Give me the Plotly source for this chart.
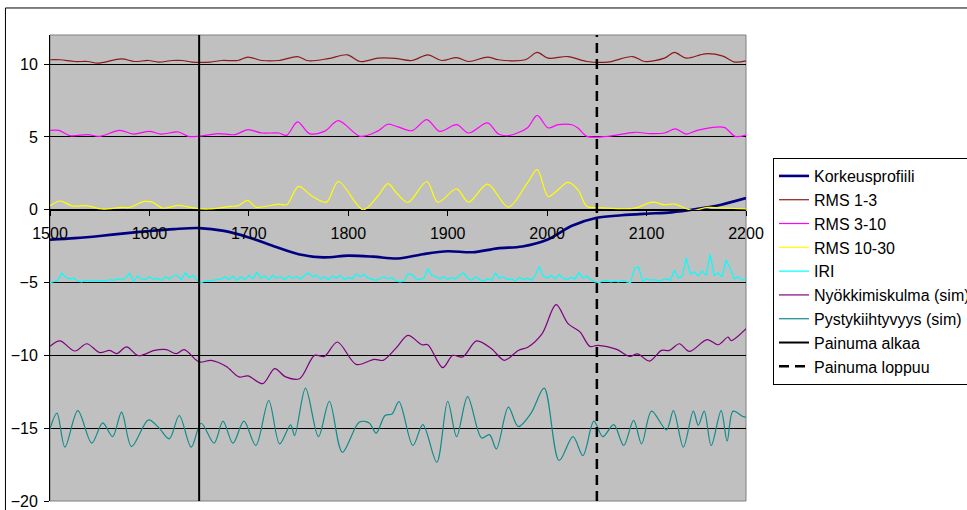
import plotly.graph_objects as go

# --- Korkeusprofiili (height profile) ---
KP_X = list(range(1500, 2201, 25))
KP_Y = [-2.06, -1.95, -1.80, -1.62, -1.46, -1.33, -1.26, -1.45, -1.90, -2.50,
        -3.05, -3.27, -3.15, -3.22, -3.35, -3.05, -2.85, -2.92, -2.65, -2.52,
        -2.06, -1.10, -0.55, -0.38, -0.27, -0.18, 0.05, 0.35, 0.80]

# --- RMS 1-3 (shown with +10 offset) ---
RMS13_X = [1500, 1510, 1525, 1538, 1548, 1572, 1585, 1599, 1609, 1623,
           1633, 1643, 1661, 1673, 1689, 1699, 1713, 1730, 1749, 1760,
           1780, 1799, 1812, 1830, 1847, 1864, 1880, 1894, 1909, 1921,
           1940, 1951, 1978, 1990, 2001, 2021, 2040, 2061, 2086, 2098,
           2118, 2128, 2140, 2159, 2176, 2189, 2200]
RMS13_Y = [10.30, 10.30, 10.18, 10.18, 10.07, 10.36, 10.18, 10.25, 10.14, 10.25,
           10.25, 10.14, 10.14, 10.25, 10.25, 10.48, 10.25, 10.25, 10.52, 10.23,
           10.38, 10.64, 10.18, 10.41, 10.40, 10.25, 10.64, 10.25, 10.45, 10.18,
           10.48, 10.30, 10.30, 10.80, 10.41, 10.52, 10.18, 10.14, 10.52, 10.18,
           10.41, 10.80, 10.41, 10.71, 10.57, 10.14, 10.23]

# --- RMS 3-10 (shown with +5 offset) ---
RMS310_X = [1500, 1509, 1520, 1538, 1550, 1570, 1584, 1600, 1612, 1629,
            1639, 1649, 1669, 1686, 1699, 1713, 1730, 1738, 1749, 1761,
            1776, 1790, 1812, 1829, 1840, 1850, 1864, 1879, 1892, 1909,
            1921, 1940, 1951, 1961, 1980, 1990, 2001, 2011, 2025, 2031,
            2040, 2061, 2088, 2104, 2118, 2129, 2140, 2151, 2178, 2189,
            2200]
RMS310_Y = [5.45, 5.45, 5.09, 5.16, 5.04, 5.45, 5.20, 5.38, 5.20, 5.34,
            5.04, 5.04, 5.23, 5.16, 5.50, 5.27, 5.27, 5.11, 6.03, 5.23,
            5.38, 6.12, 5.04, 5.38, 5.87, 5.69, 5.43, 6.19, 5.38, 5.84,
            5.27, 5.96, 5.20, 5.09, 5.62, 6.48, 5.62, 5.84, 5.84, 5.62,
            5.04, 5.04, 5.32, 5.23, 5.27, 5.55, 5.20, 5.45, 5.66, 5.04,
            5.13]

# --- RMS 10-30 ---
RMS1030_X = [1500, 1510, 1522, 1538, 1552, 1572, 1580, 1595, 1603, 1613,
             1630, 1645, 1659, 1682, 1689, 1699, 1707, 1730, 1738, 1750,
             1763, 1778, 1790, 1815, 1830, 1840, 1848, 1860, 1879, 1890,
             1909, 1921, 1940, 1961, 1980, 1990, 2001, 2009, 2021, 2031,
             2040, 2051, 2088, 2106, 2118, 2128, 2146, 2161, 2181, 2200]
RMS1030_Y = [0.27, 0.60, 0.27, 0.27, 0.05, 0.16, 0.16, 0.57, 0.52, 0.11,
             0.30, 0.11, 0.05, 0.23, 0.27, 0.64, 0.18, 0.39, 0.34, 1.60,
             0.96, 0.52, 1.94, 0.00, 0.96, 1.79, 1.20, 0.50, 1.94, 0.52,
             1.44, 0.52, 1.76, 0.18, 1.83, 2.75, 0.91, 1.26, 1.88, 1.37,
             0.23, 0.14, 0.11, 0.52, 0.34, 0.39, -0.05, 0.16, 0.11, 0.05]

# --- IRI (shown with -5 offset) ---
IRI_X = list(range(1500, 2201, 4))
IRI_Y = [
    -5.00, -4.95, -4.85, -4.35, -4.65, -4.75, -4.70, -4.90, -4.95, -4.85,
    -4.90, -4.85, -4.90, -4.85, -4.90, -4.80, -4.85, -4.75, -4.80, -4.70,
    -4.35, -4.95, -4.55, -4.75, -4.80,
    -4.60, -4.80, -4.70, -4.85, -4.60, -4.75, -4.55, -4.50, -4.80, -4.35,
    -4.65, -4.50, -4.85, -5.00, -4.90, -4.90, -4.85, -4.80, -4.75, -4.60,
    -4.80, -4.55, -4.85, -4.60, -4.80,
    -4.50, -4.75, -4.30, -4.70, -4.55, -4.80, -4.50, -4.70, -4.60, -4.80,
    -4.55, -4.70, -4.60, -4.75, -4.50, -4.35, -4.60, -4.50, -4.75, -4.60,
    -4.80, -4.55, -4.70, -4.50, -4.80,
    -4.65, -4.75, -4.40, -4.60, -4.45, -4.70, -4.80, -4.85, -4.70, -4.60,
    -4.75, -4.65, -4.90, -4.95, -4.90, -4.40, -4.45, -4.75, -4.80, -4.70,
    -4.05, -4.50, -4.60, -4.75, -4.60,
    -4.80, -4.65, -4.75, -4.50, -4.35, -4.70, -4.85, -4.60, -4.80, -4.90,
    -4.75, -4.85, -4.35, -4.70, -4.60, -4.80, -4.75, -4.90, -4.65, -4.80,
    -4.70, -4.85, -4.50, -3.90, -4.55,
    -4.70, -4.50, -4.75, -4.45, -4.70, -4.80, -4.65, -4.75, -4.30, -4.70,
    -4.55, -4.80, -4.95, -5.00, -4.90, -4.85, -4.95, -4.90, -4.95, -4.85,
    -4.95, -5.00, -4.00, -3.95, -4.90,
    -4.75, -4.85, -4.80, -4.90, -4.85, -4.75, -4.85, -4.15, -4.70, -4.55,
    -3.30, -4.40, -4.25, -4.55, -4.20, -4.50, -3.05, -4.50, -4.35, -4.60,
    -3.45, -4.00, -4.75, -4.60, -4.85,
    -4.70,
]

# --- Nyökkimiskulma (sim), shown with -10 offset ---
NYOK_X = [1500, 1510, 1525, 1537, 1550, 1560, 1567, 1577, 1589, 1605,
          1617, 1627, 1635, 1650, 1662, 1677, 1690, 1699, 1714, 1726,
          1737, 1751, 1766, 1776, 1789, 1808, 1826, 1835, 1848, 1860,
          1874, 1880, 1895, 1905, 1915, 1929, 1944, 1957, 1971, 1981,
          1995, 2009, 2021, 2033, 2043, 2051, 2070, 2083, 2091, 2103,
          2115, 2123, 2133, 2143, 2161, 2172, 2182, 2185, 2200]
NYOK_Y = [-9.38, -9.01, -9.70, -9.20, -9.81, -9.66, -9.88, -9.42, -10.02, -9.66,
          -9.61, -9.88, -9.61, -10.45, -10.34, -10.75, -11.48, -11.41, -11.94, -10.91,
          -11.48, -11.60, -10.00, -10.07, -9.08, -10.62, -10.27, -10.34, -9.50, -8.63,
          -9.27, -9.27, -10.84, -10.00, -10.11, -9.01, -9.54, -10.34, -9.66, -9.42,
          -8.51, -6.52, -7.82, -8.39, -9.38, -9.31, -9.59, -10.07, -9.90, -10.39,
          -9.66, -9.66, -9.20, -9.73, -8.92, -9.27, -8.74, -8.99, -8.17]

# --- Pystykiihtyvyys (sim), shown with -15 offset ---
PYST_X = [1500, 1507, 1515, 1528, 1542, 1553, 1563, 1572, 1582, 1599,
          1609, 1620, 1630, 1642, 1652, 1665, 1674, 1684, 1695, 1707,
          1720, 1731, 1742, 1746, 1757, 1770, 1781, 1794, 1811, 1821,
          1828, 1837, 1844, 1851, 1865, 1875, 1889, 1900, 1909, 1920,
          1934, 1942, 1949, 1961, 1971, 1984, 1997, 2012, 2026, 2036,
          2047, 2056, 2067, 2077, 2087, 2095, 2105, 2120, 2127, 2137,
          2147, 2152, 2158, 2165, 2175, 2181, 2187, 2197, 2200]
PYST_Y = [-15.05, -13.97, -16.30, -13.79, -16.03, -14.64, -15.58, -13.90, -16.26, -14.43,
          -14.93, -15.73, -14.13, -16.30, -14.66, -16.03, -14.52, -16.03, -14.52, -16.19,
          -13.10, -16.08, -14.77, -15.51, -12.25, -15.58, -13.15, -16.65, -14.59, -14.64,
          -15.34, -14.13, -14.02, -13.18, -16.19, -14.75, -17.34, -13.15, -15.58, -12.83,
          -15.67, -15.44, -16.42, -13.56, -14.89, -13.95, -12.25, -17.22, -15.58, -16.88,
          -14.52, -15.58, -14.75, -16.19, -14.46, -16.08, -13.83, -15.11, -13.79, -16.30,
          -13.83, -14.80, -13.83, -16.19, -13.79, -15.89, -13.83, -14.20, -14.25]

# --- Depression start / end markers ---
PAINUMA_ALKAA = 1650
PAINUMA_LOPPUU = 2050
Y_RANGE = [-20, 12]
X_RANGE = [1500, 2200]

FONT = "Liberation Sans, Arial, sans-serif"

fig = go.Figure()

def smooth(name, x, y, color, width=1.2):
    fig.add_trace(go.Scatter(x=x, y=y, name=name, mode="lines",
                             line=dict(color=color, width=width, shape="spline", smoothing=0.9)))

smooth("Korkeusprofiili", KP_X, KP_Y, "#000080", 2.6)
smooth("RMS 1-3", RMS13_X, RMS13_Y, "#8B1A1A")
smooth("RMS 3-10", RMS310_X, RMS310_Y, "#FF00FF")
smooth("RMS 10-30", RMS1030_X, RMS1030_Y, "#FFFF00")
fig.add_trace(go.Scatter(x=IRI_X, y=IRI_Y, name="IRI", mode="lines",
                         line=dict(color="#00FFFF", width=1.2)))
smooth("Nyökkimiskulma (sim)", NYOK_X, NYOK_Y, "#800080")
smooth("Pystykiihtyvyys (sim)", PYST_X, PYST_Y, "#108A8A")
fig.add_trace(go.Scatter(x=[PAINUMA_ALKAA, PAINUMA_ALKAA], y=Y_RANGE, name="Painuma alkaa",
                         mode="lines", line=dict(color="black", width=2)))
fig.add_trace(go.Scatter(x=[PAINUMA_LOPPUU, PAINUMA_LOPPUU], y=Y_RANGE, name="Painuma loppuu",
                         mode="lines", line=dict(color="black", width=2.5, dash="10px,6px")))

# plot-area frame and outer chart frame
fig.add_shape(type="rect", xref="paper", yref="paper", x0=0, x1=1, y0=0, y1=1,
              line=dict(color="#808080", width=1), layer="below")
fig.add_shape(type="rect", xref="paper", yref="paper", x0=-0.064, x1=1.5, y0=-0.05, y1=1.058,
              line=dict(color="black", width=1))

zero_pos = (0 - Y_RANGE[0]) / (Y_RANGE[1] - Y_RANGE[0])

fig.update_layout(
    width=967, height=510,
    margin=dict(l=50, r=221, t=35, b=9, autoexpand=False),
    paper_bgcolor="white",
    plot_bgcolor="#C0C0C0",
    font=dict(family=FONT, size=16, color="black"),
    showlegend=True,
    legend=dict(x=1.0388, y=0.736, xanchor="left", yanchor="top",
                bgcolor="white", bordercolor="black", borderwidth=1,
                font=dict(family=FONT, size=16, color="black"),
                itemwidth=30, tracegroupgap=0),
    xaxis=dict(range=X_RANGE, dtick=100, showgrid=False, zeroline=False,
               showline=True, linecolor="black", linewidth=1,
               ticks="outside", ticklen=5, tickcolor="black",
               ticklabelstandoff=4,
               anchor="free", position=zero_pos,
               tickfont=dict(family=FONT, size=16, color="black")),
    yaxis=dict(range=Y_RANGE, dtick=5, showgrid=True, gridcolor="black", gridwidth=1,
               zeroline=False, showline=True, linecolor="black", linewidth=1,
               ticks="outside", ticklen=5, tickcolor="black",
               ticklabelstandoff=3,
               tickfont=dict(family=FONT, size=16, color="black")),
)

fig.write_html("out.html")
